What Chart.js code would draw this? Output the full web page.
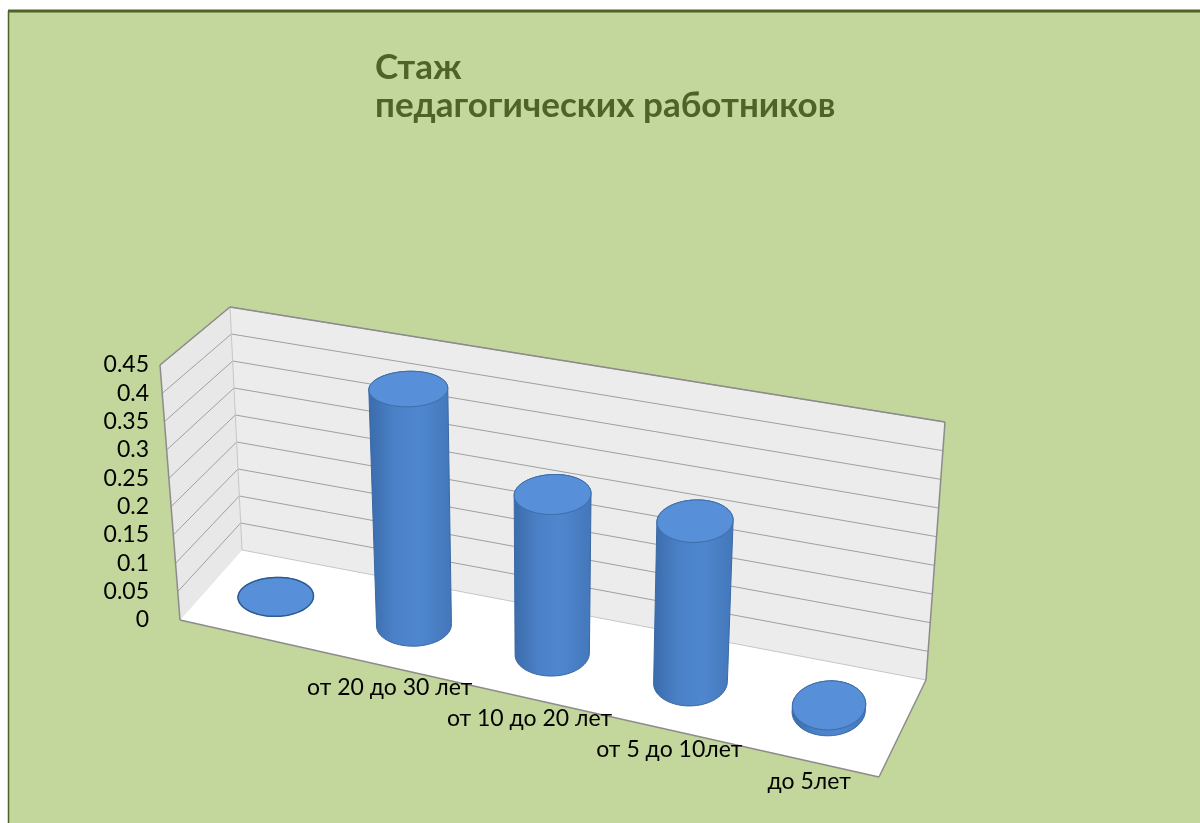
<!DOCTYPE html>
<html>
<head>
<meta charset="utf-8">
<script src="https://cdn.jsdelivr.net/npm/chart.js@4/dist/chart.umd.min.js"></script>
<style>
  html, body { margin: 0; padding: 0; background: #fff; }
  canvas { display: block; }
</style>
</head>
<body>
<canvas id="stazhChart" width="1200" height="823"></canvas>
<script>
// data
let categories = ['', 'от 20 до 30 лет', 'от 10 до 20 лет', 'от 5 до 10лет', 'до 5лет'];
let shares = [0, 0.42, 0.28, 0.28, 0.01];
let yTicks = [0, 0.05, 0.1, 0.15, 0.2, 0.25, 0.3, 0.35, 0.4, 0.45];
let titleLines = ['Стаж', 'педагогических работников'];

// screen corners of the 3d box (front/back, left/right, bottom/top)
const box = {
  flb: [180, 620], frb: [879, 777], flt: [160, 365], frt: [895, 506],
  blb: [242, 550], brb: [926, 680], blt: [230, 307], brt: [945, 422]
};

function lerp(a, b, t) {
  return [a[0] + (b[0] - a[0]) * t, a[1] + (b[1] - a[1]) * t];
}

// u: 0..1 along categories, v: 0..1 up the value axis, z: 0 front .. 1 back
function proj(u, v, z) {
  const f = lerp(lerp(box.flb, box.frb, u), lerp(box.flt, box.frt, u), v);
  const b = lerp(lerp(box.blb, box.brb, u), lerp(box.blt, box.brt, u), v);
  return lerp(f, b, z);
}

function tracePath(ctx, pts) {
  ctx.beginPath();
  ctx.moveTo(pts[0][0], pts[0][1]);
  for (let i = 1; i < pts.length; i++) ctx.lineTo(pts[i][0], pts[i][1]);
  ctx.closePath();
}

function line(ctx, a, b) {
  ctx.beginPath();
  ctx.moveTo(a[0], a[1]);
  ctx.lineTo(b[0], b[1]);
  ctx.stroke();
}

function hull(pts) {
  const p = pts.slice().sort((a, b) => a[0] - b[0] || a[1] - b[1]);
  const cross = (o, a, b) => (a[0] - o[0]) * (b[1] - o[1]) - (a[1] - o[1]) * (b[0] - o[0]);
  const lower = [], upper = [];
  for (const q of p) {
    while (lower.length >= 2 && cross(lower[lower.length - 2], lower[lower.length - 1], q) <= 0) lower.pop();
    lower.push(q);
  }
  for (const q of p.reverse()) {
    while (upper.length >= 2 && cross(upper[upper.length - 2], upper[upper.length - 1], q) <= 0) upper.pop();
    upper.push(q);
  }
  upper.pop();
  lower.pop();
  return lower.concat(upper);
}

function ring(u, v, ru, rz, zc) {
  const pts = [];
  for (let k = 0; k < 72; k++) {
    const a = k / 72 * Math.PI * 2;
    pts.push(proj(u + ru * Math.cos(a), v, zc + rz * Math.sin(a)));
  }
  return pts;
}

function toU(area, px) { return (px - area.left) / area.width; }
function toV(area, py) { return (area.bottom - py) / area.height; }

const box3d = {
  id: 'box3d',
  beforeDraw(chart) {
    const ctx = chart.ctx;
    ctx.save();
    ctx.fillStyle = '#ffffff';
    ctx.fillRect(0, 0, chart.width, chart.height);
    ctx.fillStyle = '#c3d69b';
    ctx.fillRect(8, 11, chart.width - 8, chart.height - 11);
    ctx.strokeStyle = '#4f6228';
    ctx.lineWidth = 3;
    line(ctx, [8, 11], [chart.width, 11]);
    ctx.lineWidth = 1.5;
    line(ctx, [8.5, 11], [8.5, chart.height]);
    ctx.restore();
  },
  beforeDatasetsDraw(chart) {
    const ctx = chart.ctx, area = chart.chartArea, y = chart.scales.y;
    ctx.save();
    const leftWall = [proj(0, 0, 0), proj(0, 0, 1), proj(0, 1, 1), proj(0, 1, 0)];
    const backWall = [proj(0, 0, 1), proj(1, 0, 1), proj(1, 1, 1), proj(0, 1, 1)];
    const floor = [proj(0, 0, 0), proj(1, 0, 0), proj(1, 0, 1), proj(0, 0, 1)];
    ctx.fillStyle = '#e8e8e8';
    tracePath(ctx, leftWall); ctx.fill();
    ctx.fillStyle = '#ececec';
    tracePath(ctx, backWall); ctx.fill();
    ctx.fillStyle = '#ffffff';
    tracePath(ctx, floor); ctx.fill();

    // gridlines on both walls
    ctx.strokeStyle = '#a0a0a0';
    ctx.lineWidth = 1;
    yTicks.forEach(t => {
      if (t === 0) return;
      const v = toV(area, y.getPixelForValue(t));
      line(ctx, proj(0, v, 1), proj(1, v, 1));
      line(ctx, proj(0, v, 0), proj(0, v, 1));
    });
    ctx.strokeStyle = '#c8c8c8';
    line(ctx, proj(0, 0, 1), proj(0, 1, 1));
    line(ctx, proj(0, 0, 1), proj(1, 0, 1));

    // outer edges
    ctx.strokeStyle = '#8c8c8c';
    ctx.lineWidth = 1.5;
    line(ctx, proj(0, 0, 0), proj(0, 1, 0));
    line(ctx, proj(0, 1, 0), proj(0, 1, 1));
    line(ctx, proj(0, 1, 1), proj(1, 1, 1));
    line(ctx, proj(1, 1, 1), proj(1, 0, 1));
    line(ctx, proj(1, 0, 1), proj(1, 0, 0));
    line(ctx, proj(0, 0, 0), proj(1, 0, 0));
    ctx.restore();
  },
  afterDatasetsDraw(chart) {
    const ctx = chart.ctx, area = chart.chartArea;
    const x = chart.scales.x, y = chart.scales.y;
    const ru = 0.25 / categories.length, rz = 0.25, zc = 0.52;
    ctx.save();
    shares.forEach((val, i) => {
      const u = toU(area, x.getPixelForValue(i)) - 0.008;
      const v = toV(area, y.getPixelForValue(val));
      const bottom = ring(u, 0, ru, rz, zc), top = ring(u, v, ru, rz, zc);
      const outline = hull(bottom.concat(top));
      const xs = outline.map(p => p[0]);
      const x0 = Math.min(...xs), x1 = Math.max(...xs);
      const g = ctx.createLinearGradient(x0, 0, x1, 0);
      g.addColorStop(0, '#3b6cab');
      g.addColorStop(0.3, '#4a80c6');
      g.addColorStop(0.6, '#4f87cf');
      g.addColorStop(1, '#4477ba');
      ctx.fillStyle = g;
      ctx.strokeStyle = '#3a68a3';
      ctx.lineWidth = 1;
      tracePath(ctx, outline); ctx.fill(); ctx.stroke();
      ctx.fillStyle = '#5790d8';
      ctx.strokeStyle = val === 0 ? '#2f5b92' : '#3d6da9';
      ctx.lineWidth = val === 0 ? 1.5 : 1;
      tracePath(ctx, top); ctx.fill(); ctx.stroke();
    });
    ctx.restore();
  },
  afterDraw(chart) {
    const ctx = chart.ctx, area = chart.chartArea, x = chart.scales.x;
    ctx.save();
    ctx.fillStyle = '#000000';
    ctx.font = '23px Lato';
    ctx.textAlign = 'center';
    ctx.textBaseline = 'middle';
    categories.forEach((c, i) => {
      if (!c) return;
      const p = proj(toU(area, x.getPixelForValue(i)), 0, 0);
      ctx.fillText(c, p[0], p[1] + 20);
    });
    ctx.fillStyle = '#4f6228';
    ctx.font = 'bold 35px Lato';
    ctx.textAlign = 'left';
    ctx.textBaseline = 'alphabetic';
    titleLines.forEach((t, i) => ctx.fillText(t, 375, 79 + i * 38));
    ctx.restore();
  }
};

var stazhChart = new Chart(document.getElementById('stazhChart').getContext('2d'), {
  type: 'bar',
  data: {
    labels: categories,
    datasets: [{
      label: 'Стаж',
      data: shares,
      backgroundColor: 'rgba(0,0,0,0)',
      borderWidth: 0
    }]
  },
  options: {
    responsive: false,
    animation: false,
    layout: { padding: { left: 60, right: 300, top: 365, bottom: 203 } },
    plugins: {
      legend: { display: false },
      tooltip: { enabled: false },
      title: { display: false }
    },
    scales: {
      x: { display: false },
      y: {
        min: 0,
        max: 0.45,
        afterBuildTicks: s => { s.ticks = yTicks.map(v => ({ value: v })); },
        afterFit: s => { s.width = 120; },
        grid: { display: false, drawTicks: false },
        border: { display: false },
        ticks: {
          autoSkip: false,
          padding: 31,
          color: '#000000',
          font: { family: 'Lato', size: 23 },
          callback: v => String(v)
        }
      }
    }
  },
  plugins: [box3d]
});
</script>
</body>
</html>
